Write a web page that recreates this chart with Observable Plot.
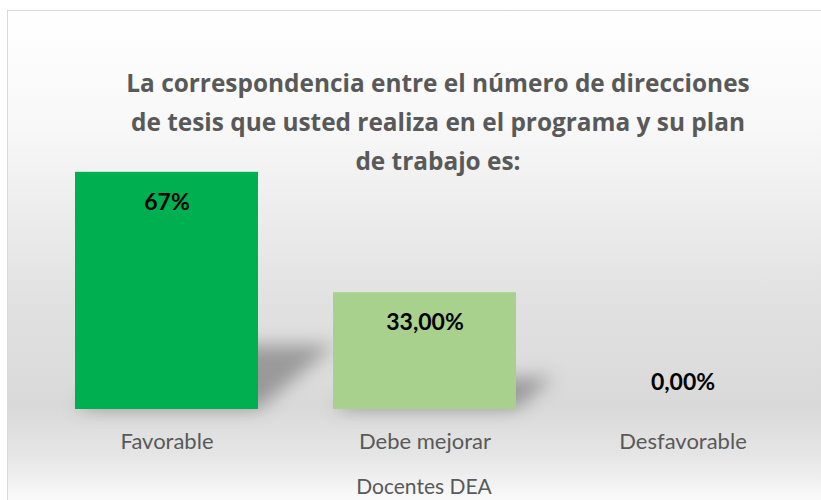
<!DOCTYPE html>
<html>
<head>
<meta charset="utf-8">
<script src="https://cdn.jsdelivr.net/npm/d3@7"></script>
<script src="https://cdn.jsdelivr.net/npm/@observablehq/plot@0.6"></script>
<style>
  html, body { margin: 0; padding: 0; background: #ffffff; }
  #wrap { position: relative; width: 821px; height: 500px; overflow: hidden; font-family: Lato, "Open Sans", sans-serif; }
  #bg { position: absolute; left: 7px; top: 10px; width: 840px; height: 520px;
        border: 1.5px solid #d9d9d9;
        background: linear-gradient(to bottom, #ffffff 0%, #f8f8f8 22%, #ededed 38%, #e1e1e1 56%, #d9d9d9 76%, #e6e6e6 86%, #ffffff 96%); }
  #title { position: absolute; left: 38px; width: 800px; top: 63px; text-align: center;
           font-family: "Open Sans", Lato, sans-serif;
           font-weight: bold; font-size: 24.4px; line-height: 39px; color: #595959; }
  #chart { position: absolute; left: 0; top: 0; }
  #xlabel { position: absolute; left: 224px; width: 400px; top: 473px; text-align: center;
            font-size: 21px; color: #595959; }
</style>
</head>
<body>
<div id="wrap">
  <div id="bg"></div>
  <div id="chart"></div>
  <div id="title"></div>
  <div id="xlabel"></div>
</div>
<script>
const titleLines = ["La correspondencia entre el número de direcciones", "de tesis que usted realiza en el programa y su plan", "de trabajo es:"];
const axisTitle = "Docentes DEA";
const categories = ["Favorable", "Debe mejorar", "Desfavorable"];
const values = [67, 33, 0];
const valueLabels = ["67%", "33,00%", "0,00%"];
const barColors = ["#00B050", "#A9D18E", "#A9D18E"];

const data = categories.map((c, i) => ({category: c, value: values[i], label: valueLabels[i], color: barColors[i]}));

document.getElementById("title").innerHTML = titleLines.join("<br>");
document.getElementById("xlabel").textContent = axisTitle;

const plot = Plot.plot({
  width: 821,
  height: 500,
  marginTop: 55,
  marginBottom: 91,
  marginLeft: 37.5,
  marginRight: 9.5,
  style: {background: "transparent", fontFamily: "Lato, 'Open Sans', sans-serif"},
  x: {domain: categories, paddingInner: 0.29, paddingOuter: 0.145, axis: null},
  y: {domain: [0, 100], axis: null},
  marks: [
    Plot.barY(data, {x: "category", y: "value", fill: "#000000", fillOpacity: 0.3}),
    Plot.barY(data, {x: "category", y: "value", fill: "color"}),
    Plot.text(data.filter(d => d.value > 0), {x: "category", y: "value", text: "label", dy: 30, fontSize: 23, fontWeight: "bold", fill: "#000000"}),
    Plot.text(data.filter(d => d.value === 0), {x: "category", y: "value", text: "label", dy: -27, fontSize: 23, fontWeight: "bold", fill: "#000000"}),
    Plot.axisX({tickSize: 0, tickPadding: 24, fontSize: 22, fill: "#595959", label: null})
  ]
});

// perspective shadow: skew the first bar group, then blur it in screen space
const y0 = plot.scale("y").apply(0);
const ns = "http://www.w3.org/2000/svg";
const defs = document.createElementNS(ns, "defs");
defs.innerHTML = '<filter id="shadowBlur" x="-50%" y="-50%" width="200%" height="200%" filterUnits="objectBoundingBox"><feGaussianBlur stdDeviation="9"/></filter>';
plot.insertBefore(defs, plot.firstChild);
const shadowGroup = plot.querySelectorAll('g[aria-label="bar"]')[0];
const wrapper = document.createElementNS(ns, "g");
wrapper.setAttribute("filter", "url(#shadowBlur)");
shadowGroup.parentNode.insertBefore(wrapper, shadowGroup);
wrapper.appendChild(shadowGroup);
shadowGroup.setAttribute("transform", `translate(0,${y0}) skewX(-50) scale(1,0.27) translate(0,${-y0})`);

document.getElementById("chart").appendChild(plot);
</script>
</body>
</html>
